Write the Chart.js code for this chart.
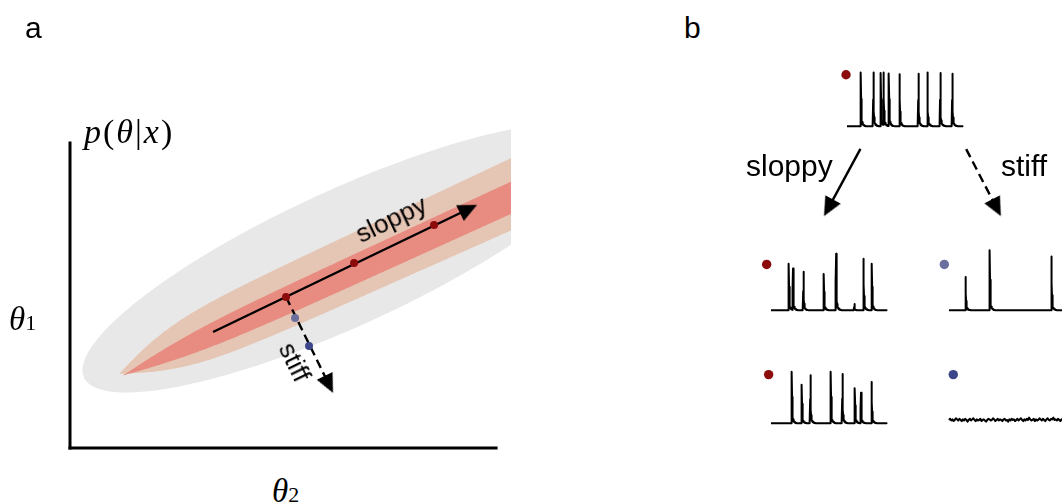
<!DOCTYPE html>
<html>
<head>
<meta charset="utf-8">
<script src="https://cdn.jsdelivr.net/npm/chart.js@4.4.1/dist/chart.umd.min.js"></script>
<style>
  html, body { margin: 0; padding: 0; background: #fff; width: 1062px; height: 504px; overflow: hidden; }
  #fig { position: relative; width: 1062px; height: 504px; overflow: hidden; }
  canvas { position: absolute; }
  .lbl { position: absolute; white-space: nowrap; line-height: 1; color: #000; }
  .sans { font-family: "Liberation Sans", Arial, Helvetica, sans-serif; }
  .serif { font-family: "Liberation Serif", "Times New Roman", serif; }
  .serif i { font-style: italic; }
  .rot { transform-origin: 50% 50%; }
</style>
</head>
<body>
<div id="fig">
  <canvas id="posterior" width="530" height="470" style="left:0;top:0"></canvas>
  <canvas id="branches" width="240" height="110" style="left:790px;top:130px"></canvas>
  <canvas id="trace0" width="143" height="88" style="left:830px;top:54px"></canvas>
  <canvas id="trace1" width="143" height="88" style="left:754px;top:238px"></canvas>
  <canvas id="trace2" width="143" height="88" style="left:932px;top:238px"></canvas>
  <canvas id="trace3" width="143" height="88" style="left:754px;top:351px"></canvas>
  <canvas id="trace4" width="143" height="88" style="left:932px;top:351px"></canvas>

  <div class="lbl sans" style="left:25px;top:13px;font-size:30px">a</div>
  <div class="lbl sans" style="left:684px;top:13px;font-size:30px">b</div>

  <div class="lbl serif" style="left:84px;top:115px;font-size:34px;letter-spacing:2px"><i>p</i>(<i>θ</i>|<i>x</i>)</div>
  <div class="lbl serif" style="left:9px;top:303px;font-size:33px"><i>θ</i><span style="font-size:22px">1</span></div>
  <div class="lbl serif" style="left:272px;top:475px;font-size:33px"><i>θ</i><span style="font-size:22px">2</span></div>

  <div class="lbl sans rot" style="left:391px;top:219px;font-size:26px;transform:translate(-50%,-50%) rotate(-25.5deg)">sloppy</div>
  <div class="lbl sans rot" style="left:295px;top:362px;font-size:26px;transform:translate(-50%,-50%) rotate(64deg)">stiff</div>

  <div class="lbl sans" style="left:746px;top:151px;font-size:30px">sloppy</div>
  <div class="lbl sans" style="left:1001px;top:151px;font-size:30px">stiff</div>
</div>

<script>
// ---------- panel a: posterior over (θ2, θ1) ----------
const contourColours = ['#e8e8e8', '#e5c5b4', '#e88b80'];   // outer, middle, inner
// principal directions of the posterior (θ2, θ1 per unit length)
const contourAxisDir = [2.1345, 1.3649];
const contourNormalDir = [0.9772, -2.9813];
// outer region: ellipse
const outerCentre = [6.455, 6.230];
const outerHalfLength = 2.87;
const outerHalfWidth = 0.68;
// middle and inner regions: tapered bands running out from a tip along the axis
const bandTipT2 = [1.150, 1.244];
const bandTipT1 = [2.426, 2.377];
const bandHalfWidth = [0.28, 0.13];
const bandTaper = [0.70, 0.85];
const bandFlare = [0.04, 0.03];
const bandLength = 5.0;

// parameter sets along the sloppy and stiff directions
const sloppyPointsT2 = [5.070, 6.667, 8.545];
const sloppyPointsT1 = [4.951, 6.066, 7.311];
const stiffPointsT2 = [5.282, 5.610];
const stiffPointsT1 = [4.262, 3.344];

// direction arrows (start, head)
const sloppyArrowT2 = [3.357, 9.343];
const sloppyArrowT1 = [3.803, 7.826];
const stiffArrowT2 = [5.070, 6.070];
const stiffArrowT1 = [4.951, 2.098];

const axisTop = 10;          // end of the drawn θ axes
const theta2ViewMax = 10.35; // view runs a little past the θ2 axis
const theta1ViewMax = 10.75;

// ---------- panel b: voltage traces (ms, mV) ----------
const traceLengthMs = 1000;
const restMv = -70;
const spikeTimes = [
  [120, 228, 292, 316, 362, 454, 616, 694, 804, 908],
  [154, 190, 280, 456, 562, 718, 798, 870],
  [144, 352, 884],
  [180, 266, 340, 516, 616, 724, 776, 868]
];
const spikePeaks = [
  [25, 25, 24, 23, 23, 22, 23, 25, 24, 23],
  [12, 3, -2, -6, 30, -59, 21, 12],
  [-11, 36, 25],
  [21, -2, 15, 21, 17, -8, -16, 3]
];
// subthreshold trace, sampled every 10 ms
const quietTrace = [
  -64, -62, -65, -63, -66, -64, -61, -63, -65, -62,
  -64, -66, -63, -65, -62, -64, -67, -64, -62, -65,
  -63, -61, -64, -66, -63, -65, -64, -62, -66, -64,
  -63, -65, -67, -64, -62, -63, -65, -64, -61, -63,
  -66, -64, -62, -65, -63, -64, -66, -63, -62, -65,
  -64, -67, -63, -65, -62, -64, -63, -66, -64, -62,
  -65, -63, -61, -64, -66, -63, -65, -62, -64, -60,
  -63, -65, -64, -62, -66, -63, -65, -64, -61, -63,
  -65, -62, -64, -66, -63, -61, -64, -65, -62, -63,
  -60, -64, -63, -65, -62, -64, -66, -63, -62, -64, -63
];
const quietStepMs = 10;

const RED = '#8c0b0b', BLUE_LIGHT = '#6b6f9e', BLUE_DARK = '#3d4689';

// ---------- helpers ----------
function outerPoints() {
  const pts = [];
  const n = 240;
  for (let k = 0; k <= n; k++) {
    const t = 2 * Math.PI * k / n;
    const c = Math.cos(t) * outerHalfLength, s = Math.sin(t) * outerHalfWidth;
    pts.push({
      x: outerCentre[0] + c * contourAxisDir[0] + s * contourNormalDir[0],
      y: outerCentre[1] + c * contourAxisDir[1] + s * contourNormalDir[1]
    });
  }
  return pts;
}

function bandPoints(i) {
  const upper = [], lower = [];
  const n = 250;
  for (let k = 0; k <= n; k++) {
    const s = bandLength * k / n;
    const w = bandHalfWidth[i] * Math.tanh(s / bandTaper[i]) * (1 + bandFlare[i] * s);
    const cx = bandTipT2[i] + s * contourAxisDir[0], cy = bandTipT1[i] + s * contourAxisDir[1];
    upper.push({x: cx - w * contourNormalDir[0], y: cy - w * contourNormalDir[1]});
    lower.push({x: cx + w * contourNormalDir[0], y: cy + w * contourNormalDir[1]});
  }
  return upper.concat(lower.reverse());
}

function headImage() {
  const c = document.createElement('canvas');
  c.width = 24; c.height = 24;
  const g = c.getContext('2d');
  g.fillStyle = '#000';
  g.beginPath();
  g.moveTo(12, 2);
  g.lineTo(20.75, 21);
  g.lineTo(3.25, 21);
  g.closePath();
  g.fill();
  return c;
}
const HEAD = headImage();

// rotation (degrees, clockwise from up) of the segment from a to b in pixel space
function headingFrom(xs, ys) {
  return (ctx) => {
    const sx = ctx.chart.scales.x, sy = ctx.chart.scales.y;
    const dx = sx.getPixelForValue(xs[1]) - sx.getPixelForValue(xs[0]);
    const dy = sy.getPixelForValue(ys[1]) - sy.getPixelForValue(ys[0]);
    return Math.atan2(dx, -dy) * 180 / Math.PI;
  };
}

function zip(xs, ys) { return xs.map((x, i) => ({x, y: ys[i]})); }

const baseOptions = {
  responsive: false,
  animation: false,
  devicePixelRatio: 1,
  events: [],
  plugins: { legend: { display: false }, tooltip: { enabled: false } }
};

// ---------- panel a chart ----------
const regionShapes = [outerPoints(), bandPoints(0), bandPoints(1)];
const posteriorDatasets = regionShapes.map((pts, i) => ({
  data: pts, showLine: true, fill: 'shape', backgroundColor: contourColours[i],
  borderWidth: 0, pointRadius: 0, tension: 0, order: 20 - i
}));
posteriorDatasets.push(
  { data: [{x: 0, y: 0}, {x: 0, y: axisTop}], showLine: true, borderColor: '#000', borderWidth: 3,
    borderCapStyle: 'square', pointRadius: 0, clip: false, order: 8 },
  { data: [{x: 0, y: 0}, {x: axisTop, y: 0}], showLine: true, borderColor: '#000', borderWidth: 3,
    borderCapStyle: 'square', pointRadius: 0, clip: false, order: 8 },
  { data: zip(sloppyArrowT2, sloppyArrowT1), showLine: true, borderColor: '#000', borderWidth: 2.4,
    pointRadius: 0, clip: false, order: 6 },
  { data: zip(stiffArrowT2, stiffArrowT1), showLine: true, borderColor: '#000', borderWidth: 2.4,
    borderDash: [9, 5], pointRadius: 0, clip: false, order: 6 },
  { data: [{x: sloppyArrowT2[1], y: sloppyArrowT1[1]}], pointStyle: HEAD, pointRadius: 10,
    rotation: headingFrom(sloppyArrowT2, sloppyArrowT1), clip: false, order: 5 },
  { data: [{x: stiffArrowT2[1], y: stiffArrowT1[1]}], pointStyle: HEAD, pointRadius: 10,
    rotation: headingFrom(stiffArrowT2, stiffArrowT1), clip: false, order: 5 },
  { data: zip(sloppyPointsT2, sloppyPointsT1), pointRadius: 4, pointBorderWidth: 0,
    backgroundColor: RED, pointBackgroundColor: RED, clip: false, order: 1 },
  { data: zip(stiffPointsT2, stiffPointsT1), pointRadius: 4, pointBorderWidth: 0,
    pointBackgroundColor: [BLUE_LIGHT, BLUE_DARK], clip: false, order: 1 }
);

new Chart(document.getElementById('posterior'), {
  type: 'scatter',
  data: { datasets: posteriorDatasets },
  options: Object.assign({}, baseOptions, {
    layout: { padding: { left: 70, right: 19, top: 120, bottom: 22 } },
    scales: {
      x: { type: 'linear', display: false, min: 0, max: theta2ViewMax },
      y: { type: 'linear', display: false, min: 0, max: theta1ViewMax }
    }
  })
});

// ---------- panel b: branch arrows ----------
const branchSloppyX = [0.2727, 0.1273], branchSloppyY = [0.9111, 0.2456];
const branchStiffX = [0.7577, 0.8959], branchStiffY = [0.9078, 0.2467];

new Chart(document.getElementById('branches'), {
  type: 'scatter',
  data: { datasets: [
    { data: zip(branchSloppyX, branchSloppyY), showLine: true, borderColor: '#000', borderWidth: 2.4,
      pointRadius: 0, clip: false, order: 3 },
    { data: zip(branchStiffX, branchStiffY), showLine: true, borderColor: '#000', borderWidth: 2.4,
      borderDash: [9, 5], pointRadius: 0, clip: false, order: 3 },
    { data: [{x: branchSloppyX[1], y: branchSloppyY[1]}], pointStyle: HEAD, pointRadius: 10,
      rotation: headingFrom(branchSloppyX, branchSloppyY), clip: false, order: 1 },
    { data: [{x: branchStiffX[1], y: branchStiffY[1]}], pointStyle: HEAD, pointRadius: 10,
      rotation: headingFrom(branchStiffX, branchStiffY), clip: false, order: 1 }
  ] },
  options: Object.assign({}, baseOptions, {
    layout: { padding: 10 },
    scales: {
      x: { type: 'linear', display: false, min: 0, max: 1 },
      y: { type: 'linear', display: false, min: 0, max: 1 }
    }
  })
});

// ---------- panel b: voltage traces ----------
function spikeWaveform(times, peaks) {
  const pts = [];
  for (let t = 0; t <= traceLengthMs; t += 2) {
    let v = restMv;
    for (let k = 0; k < times.length; k++) {
      const d = t - times[k];
      const amp = peaks[k] - restMv;
      if (d >= -4 && d < 0) v += amp * (d + 4) / 4;
      else if (d >= 0) v += amp * (0.85 * Math.exp(-d / 2.5) + 0.15 * Math.exp(-d / 12));
    }
    pts.push({x: t, y: v});
  }
  return pts;
}

const traceMarkers = [
  { colour: RED, at: {x: -8, y: 21} },
  { colour: RED, at: {x: -37, y: 11} },
  { colour: BLUE_LIGHT, at: {x: -40, y: 11} },
  { colour: RED, at: {x: -20, y: 16} },
  { colour: BLUE_DARK, at: {x: 37, y: 16} }
];

function traceChart(id, points, marker) {
  new Chart(document.getElementById(id), {
    type: 'scatter',
    data: { datasets: [
      { data: [marker.at], pointRadius: 4.7, pointBorderWidth: 0,
        pointBackgroundColor: marker.colour, clip: false, order: 1 },
      { data: points, showLine: true, borderColor: '#000', borderWidth: 2, pointRadius: 0,
        borderJoinStyle: 'round', clip: false, order: 2 }
    ] },
    options: Object.assign({}, baseOptions, {
      layout: { padding: 10 },
      scales: {
        x: { type: 'linear', display: false, min: -60, max: traceLengthMs },
        y: { type: 'linear', display: false, min: -80, max: 40 }
      }
    })
  });
}

spikeTimes.forEach((times, i) => traceChart('trace' + i, spikeWaveform(times, spikePeaks[i]), traceMarkers[i]));
traceChart('trace4', quietTrace.map((v, i) => ({x: i * quietStepMs, y: v})), traceMarkers[4]);
</script>
</body>
</html>
